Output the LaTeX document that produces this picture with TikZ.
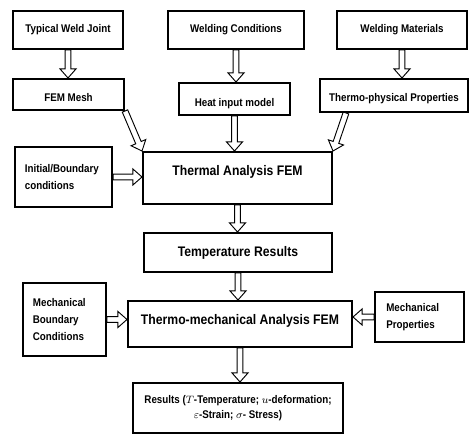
\documentclass[tikz,border=0pt]{standalone}
\usepackage{fontspec}
\newfontfamily\boxfont[FakeStretch=0.88]{Liberation Sans}
\usetikzlibrary{positioning, calc, backgrounds}
\tikzstyle{box} = [draw, line width=1.5pt, inner sep=0pt, font={\boxfont\bfseries\fontsize{8.35pt}{13pt}\selectfont}]
\tikzstyle{bigbox} = [box, font={\boxfont\bfseries\fontsize{10.4pt}{13pt}\selectfont}]
\tikzstyle{fat} = [draw, fill=white, line width=0.7pt, line join=miter,
  to path={let \p1=(\tikztostart), \p2=(\tikztotarget), \n1={atan2(\y2-\y1,\x2-\x1)}, \n2={veclen(\x2-\x1,\y2-\y1)} in
    [shift={(\p1)}, rotate=\n1] (0,-2.2pt) -- (\n2-6.8pt,-2.2pt) -- (\n2-6.8pt,-6pt) -- (\n2,0pt) -- (\n2-6.8pt,6pt) -- (\n2-6.8pt,2.2pt) -- (0,2.2pt) -- cycle}]

\begin{document}
\begin{tikzpicture}[x=0.75pt, y=-0.75pt]
			\useasboundingbox (0,0) rectangle (469,434);
			\node [box, minimum width=82.5pt, minimum height=28.5pt] (joint) at (68,30) {Typical Weld Joint};
			\node [box, minimum width=102pt, minimum height=28.5pt] (cond) at (236,30) {Welding Conditions};
			\node [box, minimum width=97.5pt, minimum height=28.5pt] (mat) at (402,30) {Welding Materials};
			\node [box, minimum width=83.25pt, minimum height=23.25pt, text height=12.5pt, text depth=2pt] (mesh) at (68.5,94.5) {FEM Mesh};
			\node [box, minimum width=83.25pt, minimum height=24pt, text height=13pt, text depth=2pt] (heat) at (234.5,99) {Heat input model};
			\node [box, minimum width=111pt, minimum height=24.75pt, text height=11pt, text depth=2pt] (prop) at (394,95.5) {Thermo-physical Properties};
			\node [box, align=left, text width=58pt, inner xsep=7.4pt, minimum height=45pt] (init) at (63.5,177) {Initial/Boundary\\conditions};
			\node [bigbox, minimum width=141.75pt, minimum height=39pt, text height=7.6pt, text depth=11.2pt] (thermal) at (237.5,178) {Thermal Analysis FEM};
			\node [bigbox, minimum width=141pt, minimum height=29.25pt] (temp) at (238,252.5) {Temperature Results};
			\node [box, align=left, text width=47.4pt, inner xsep=7.4pt, minimum height=54.75pt] (mbound) at (64.5,319.5) {Mechanical\\Boundary\\Conditions};
			\node [bigbox, minimum width=168pt, minimum height=34.5pt, text height=7.6pt, text depth=6.7pt] (mech) at (240,324) {Thermo-mechanical Analysis FEM};
			\node [box, align=left, text width=49.75pt, inner xsep=8.5pt, minimum height=37.5pt] (mprop) at (419.5,317) {Mechanical\\Properties};
			\node [box, align=center, minimum width=157.5pt, minimum height=37.5pt, font={\boxfont\bfseries\fontsize{8.35pt}{11.25pt}\selectfont}] (res) at (238,408) {Results ($T$-Temperature; $u$-deformation;\\$\varepsilon$-Strain; $\sigma$- Stress)};
			
			\begin{scope}[on background layer]
			\path [fat] (joint.south) to (joint.south |- mesh.north);
			\path [fat] (cond.south) to (cond.south |- heat.north);
			\path [fat] (mat.south) to (mat.south |- prop.north);
			\path [fat] (mesh.south east) to (thermal.north west);
			\path [fat] (heat.south) to (heat.south |- thermal.north);
			\path [fat] ($(prop.south west)!0.18!(prop.south east)$) to (thermal.north east);
			\path [fat] (init.east) to (init.east -| thermal.west);
			\path [fat] (thermal.south) to (thermal.south |- temp.north);
			\path [fat] (temp.south) to (temp.south |- mech.north);
			\path [fat] (mbound.east) to (mbound.east -| mech.west);
			\path [fat] (mprop.west) to (mprop.west -| mech.east);
			\path [fat] (mech.south) to (mech.south |- res.north);
			\end{scope}
		\end{tikzpicture}
\end{document}
